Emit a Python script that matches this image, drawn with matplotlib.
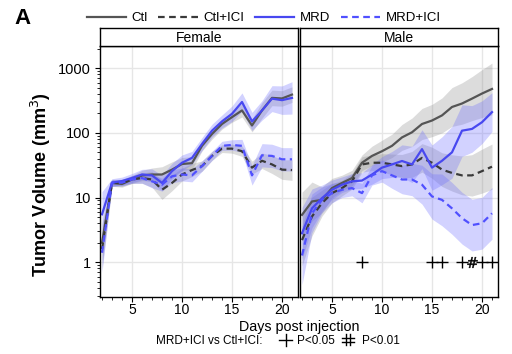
import matplotlib
matplotlib.use("Agg")
import matplotlib.pyplot as plt
import matplotlib.ticker as mticker
import numpy as np

plt.rcParams['font.family'] = ['Liberation Sans', 'DejaVu Sans']

days = list(range(2, 22))

# means (mm3), one value per day 2..21
ctl_f = [2.0, 16.8, 16.2, 19, 21.9, 22.7, 22.7, 27, 33, 34, 63, 96, 137, 175, 222, 130, 222, 347, 340, 390]
mrd_f = [5.5, 17, 18, 20, 22.7, 22, 16.8, 25.6, 34.5, 41, 67, 108, 150, 197, 300, 150, 222, 338, 320, 347]
ctlici_f = [1.6, 16.8, 16.8, 19, 20, 19, 13.2, 16.8, 22.7, 26.6, 30.6, 44, 57, 57, 52, 29, 37, 32.5, 27, 26.6]
mrdici_f = [1.4, 17, 17, 19, 20, 17.8, 15.8, 21.3, 22.7, 22, 30.6, 44, 63, 65, 63, 22, 45, 44, 39, 39]

ctl_m = [5.4, 8.7, 9.2, 14, 16.8, 20, 34.5, 44, 52, 63, 85, 102, 137, 155, 186, 251, 284, 338, 405, 477]
mrd_m = [2.8, 6.8, 9.8, 13.2, 15.8, 17.8, 18.3, 22.7, 29, 32.5, 36.7, 32.5, 56, 29, 37, 50, 108, 115, 146, 209]
ctlici_m = [2.2, 5.1, 8.2, 11.7, 14, 17.8, 32.5, 34.5, 34.5, 32.5, 30.6, 32.5, 41, 34.5, 27, 24, 22, 22, 25.6, 30]
mrdici_m = [1.27, 5.7, 9.2, 11.7, 13.2, 14, 11.7, 22, 25.6, 22, 19, 19, 15.8, 10.4, 9.2, 6.8, 4.8, 3.75, 4.0, 5.7]

# ribbon half widths (log10 units)
ctl_f_se = [0.3, 0.05, 0.05, 0.06, 0.08, 0.1, 0.12, 0.12, 0.1, 0.1, 0.08, 0.08, 0.08, 0.08, 0.1, 0.1, 0.12, 0.12, 0.12, 0.12]
mrd_f_se = [0.35, 0.06, 0.06, 0.07, 0.08, 0.1, 0.12, 0.12, 0.12, 0.1, 0.1, 0.1, 0.1, 0.12, 0.14, 0.14, 0.15, 0.2, 0.22, 0.25]
ctlici_f_se = [0.3, 0.05, 0.05, 0.06, 0.08, 0.12, 0.15, 0.12, 0.1, 0.1, 0.08, 0.07, 0.06, 0.07, 0.08, 0.1, 0.12, 0.14, 0.15, 0.16]
mrdici_f_se = [0.3, 0.05, 0.05, 0.06, 0.08, 0.1, 0.1, 0.1, 0.1, 0.1, 0.08, 0.07, 0.07, 0.08, 0.1, 0.15, 0.18, 0.18, 0.18, 0.18]

ctl_m_se = [0.35, 0.3, 0.2, 0.15, 0.12, 0.12, 0.12, 0.15, 0.17, 0.18, 0.2, 0.22, 0.24, 0.25, 0.27, 0.3, 0.32, 0.34, 0.37, 0.4]
mrd_m_se = [0.4, 0.3, 0.2, 0.15, 0.12, 0.12, 0.12, 0.15, 0.17, 0.2, 0.25, 0.28, 0.3, 0.35, 0.37, 0.4, 0.4, 0.36, 0.33, 0.3]
ctlici_m_se = [0.4, 0.3, 0.2, 0.15, 0.12, 0.12, 0.12, 0.12, 0.14, 0.16, 0.18, 0.2, 0.22, 0.24, 0.26, 0.28, 0.3, 0.32, 0.34, 0.35]
mrdici_m_se = [0.45, 0.3, 0.2, 0.15, 0.12, 0.12, 0.15, 0.15, 0.17, 0.2, 0.22, 0.25, 0.3, 0.35, 0.4, 0.4, 0.4, 0.4, 0.4, 0.4]

p05_days = [8, 15, 16, 18, 20, 21]
p01_days = [19]

groups = ['Ctl', 'Ctl+ICI', 'MRD', 'MRD+ICI']
line_col = {'Ctl': '#555555', 'Ctl+ICI': '#3a3a3a', 'MRD': '#4848f0', 'MRD+ICI': '#5050ff'}
fill_col = {'Ctl': '#8c8c8c', 'Ctl+ICI': '#8c8c8c', 'MRD': '#6a6aff', 'MRD+ICI': '#6a6aff'}
styles = {'Ctl': '-', 'Ctl+ICI': (0, (3, 2)), 'MRD': '-', 'MRD+ICI': (0, (3, 2))}

female = {'Ctl': (ctl_f, ctl_f_se), 'Ctl+ICI': (ctlici_f, ctlici_f_se),
          'MRD': (mrd_f, mrd_f_se), 'MRD+ICI': (mrdici_f, mrdici_f_se)}
male = {'Ctl': (ctl_m, ctl_m_se), 'Ctl+ICI': (ctlici_m, ctlici_m_se),
        'MRD': (mrd_m, mrd_m_se), 'MRD+ICI': (mrdici_m, mrdici_m_se)}

fig = plt.figure(figsize=(5.12, 3.54), dpi=100)
W, H = 512.0, 354.0

ax_f = fig.add_axes([100 / W, 57 / H, 198 / W, 251 / H])
ax_m = fig.add_axes([300 / W, 57 / H, 198 / W, 251 / H], sharey=ax_f)

handles = []
for ax, data in [(ax_f, female), (ax_m, male)]:
    for g in groups:
        m, se = data[g]
        m = np.array(m)
        se = np.array(se)
        ax.fill_between(days, m / 10 ** se, m * 10 ** se, color=fill_col[g], alpha=0.3, lw=0)
    for g in groups:
        m, se = data[g]
        ln, = ax.plot(days, m, color=line_col[g], ls=styles[g], lw=1.6, label=g)
        if ax is ax_f:
            handles.append(ln)

    ax.set_yscale('log')
    ax.set_ylim(0.29, 2200)
    ax.set_xlim(1.8, 21.6)
    ax.xaxis.set_major_locator(mticker.MultipleLocator(5))
    ax.xaxis.set_minor_locator(mticker.MultipleLocator(1))
    ax.grid(True, which='major', color='#e6e6e6', lw=1)
    ax.set_axisbelow(True)
    ax.tick_params(which='major', direction='out', length=3.5, width=0.8, labelsize=10,
                   color='black', pad=0.8)
    ax.tick_params(which='minor', direction='out', length=2.2, width=0.6, color='black')
    for s in ax.spines.values():
        s.set_linewidth(1.0)

ax_f.set_yticks([1, 10, 100, 1000])
ax_f.yaxis.set_major_formatter(mticker.FuncFormatter(lambda v, p: '%d' % v))
ax_f.yaxis.set_minor_locator(mticker.LogLocator(base=10, subs=np.arange(2, 10)))
ax_f.yaxis.set_minor_formatter(mticker.NullFormatter())
ax_f.tick_params(axis='y', which='major', labelsize=10.5, pad=3)
ax_m.tick_params(axis='y', which='both', left=False, labelleft=False)

# significance markers
ax_m.scatter(p05_days, [1] * len(p05_days), marker='+', s=70, color='black', lw=1.0, zorder=5)
ax_m.scatter(p01_days, [1] * len(p01_days), marker=r'$\#$', s=60, color='black', lw=0.3, zorder=5)

# facet strips
for x0, lab in [(100, 'Female'), (300, 'Male')]:
    sax = fig.add_axes([x0 / W, 308 / H, 198 / W, 18 / H])
    sax.set_xticks([])
    sax.set_yticks([])
    for s in sax.spines.values():
        s.set_linewidth(1.0)
    sax.text(0.5, 0.45, lab, ha='center', va='center', fontsize=10, transform=sax.transAxes)

fig.legend(handles=handles, labels=groups, loc='center', bbox_to_anchor=(0.515, 0.949),
           ncol=4, frameon=False, fontsize=9.5, handlelength=3.0, handletextpad=0.4,
           columnspacing=0.8)

fig.text(14 / W, 1 - 18 / H, 'A', fontsize=16, fontweight='bold', ha='left', va='center')
fig.text(41 / W, 1 - 185 / H, 'Tumor Volume (mm$^3$)', rotation=90, fontsize=13,
         fontweight='bold', ha='center', va='center')
fig.text(299 / W, 1 - 331 / H, 'Days post injection', fontsize=10.3, ha='center', va='baseline')

base = 1 - 343.5 / H
fig.text(263 / W, base, 'MRD+ICI vs Ctl+ICI:', fontsize=8.5, ha='right', va='baseline')
fig.text(297 / W, base, 'P<0.05', fontsize=8.5, ha='left', va='baseline')
fig.text(362 / W, base, 'P<0.01', fontsize=8.5, ha='left', va='baseline')


def fline(xs, ys):
    fig.lines.append(plt.Line2D([x / W for x in xs], [1 - y / H for y in ys], color='black',
                                lw=1.0, transform=fig.transFigure))


# plus symbol for P<0.05
fline([279, 292], [339.5, 339.5])
fline([285.5, 285.5], [333.5, 345.5])
# hash symbol for P<0.01
fline([342, 354], [337.5, 337.5])
fline([342, 354], [341.5, 341.5])
fline([346, 346], [334, 345])
fline([350, 350], [334, 345])

fig.savefig('out.png', dpi=100)
